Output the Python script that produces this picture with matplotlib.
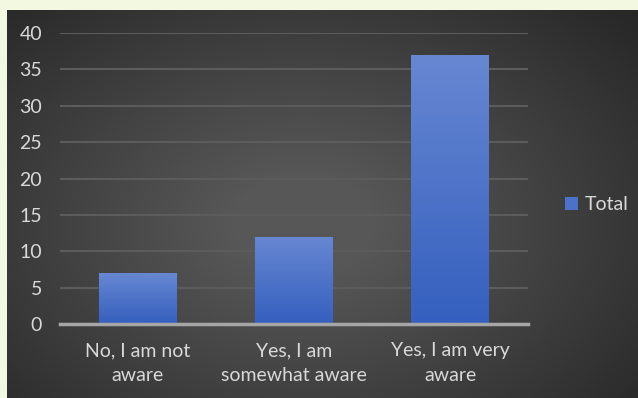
import numpy as np
import matplotlib
matplotlib.use("Agg")
import matplotlib.pyplot as plt
from matplotlib.colors import LinearSegmentedColormap

categories = ["No, I am not\naware", "Yes, I am\nsomewhat aware", "Yes, I am very\naware"]
totals = [7, 12, 37]
y_ticks = [0, 5, 10, 15, 20, 25, 30, 35, 40]
series_name = "Total"

plt.rcParams["font.family"] = ["Lato", "DejaVu Sans"]

W, H, DPI = 638, 398, 100
fig = plt.figure(figsize=(W / DPI, H / DPI), dpi=DPI, facecolor="#f3f9e1")

# dark radial background panel
bg = fig.add_axes([7 / W, 0, 1 - 7 / W, 1 - 10 / H])
bg.set_axis_off()
yy, xx = np.mgrid[0:1:300j, 0:1:400j]
r = np.sqrt(((xx - 0.47) / 0.75) ** 2 + ((yy - 0.55) / 0.85) ** 2)
shade = np.clip(1 - r, 0, 1)
bg_cmap = LinearSegmentedColormap.from_list("bg", ["#242424", "#575757"])
bg.imshow(shade, cmap=bg_cmap, aspect="auto", extent=(0, 1, 0, 1), vmin=0, vmax=0.85)
bg.set_xlim(0, 1)
bg.set_ylim(0, 1)

ax = fig.add_axes([60 / W, 1 - 324 / H, 468 / W, (324 - 33) / H])
ax.patch.set_alpha(0)
x = np.arange(len(categories))
bars = ax.bar(x, totals, width=0.5, color="#4a72c8", zorder=3, label=series_name)

bar_cmap = LinearSegmentedColormap.from_list("bar", ["#3560bf", "#6787d2"])
grad = np.linspace(0, 1, 100).reshape(-1, 1)
for b in bars:
    x0, y0 = b.get_x(), b.get_y()
    im = ax.imshow(grad, cmap=bar_cmap, origin="lower", aspect="auto",
                   extent=(x0, x0 + b.get_width(), y0, y0 + b.get_height()), zorder=3)
    im.set_clip_path(b)

ax.set_xlim(-0.5, len(categories) - 0.5)
ax.set_ylim(0, 40)
ax.set_yticks(y_ticks)
ax.set_xticks(x)
ax.set_xticklabels(categories, linespacing=1.6)
ax.tick_params(axis="both", length=0, colors="#d9d9d9", labelsize=14)
ax.tick_params(axis="y", pad=13)
ax.tick_params(axis="x", pad=13)
ax.grid(axis="y", color="#5c5c5c", linewidth=1.5, zorder=0)
ax.set_axisbelow(True)
for side in ["top", "right", "left"]:
    ax.spines[side].set_visible(False)
ax.spines["bottom"].set_color("#a6a6a6")
ax.spines["bottom"].set_linewidth(2.5)
ax.spines["bottom"].set_zorder(4)

leg = fig.legend(handles=[bars], labels=[series_name], loc="center left",
                 bbox_to_anchor=(547 / W, 1 - 205 / H), frameon=False,
                 fontsize=14, handlelength=0.7, handleheight=0.7, handletextpad=0.35)
for t in leg.get_texts():
    t.set_color("#d9d9d9")

fig.savefig("out.png", dpi=DPI, facecolor=fig.get_facecolor())
